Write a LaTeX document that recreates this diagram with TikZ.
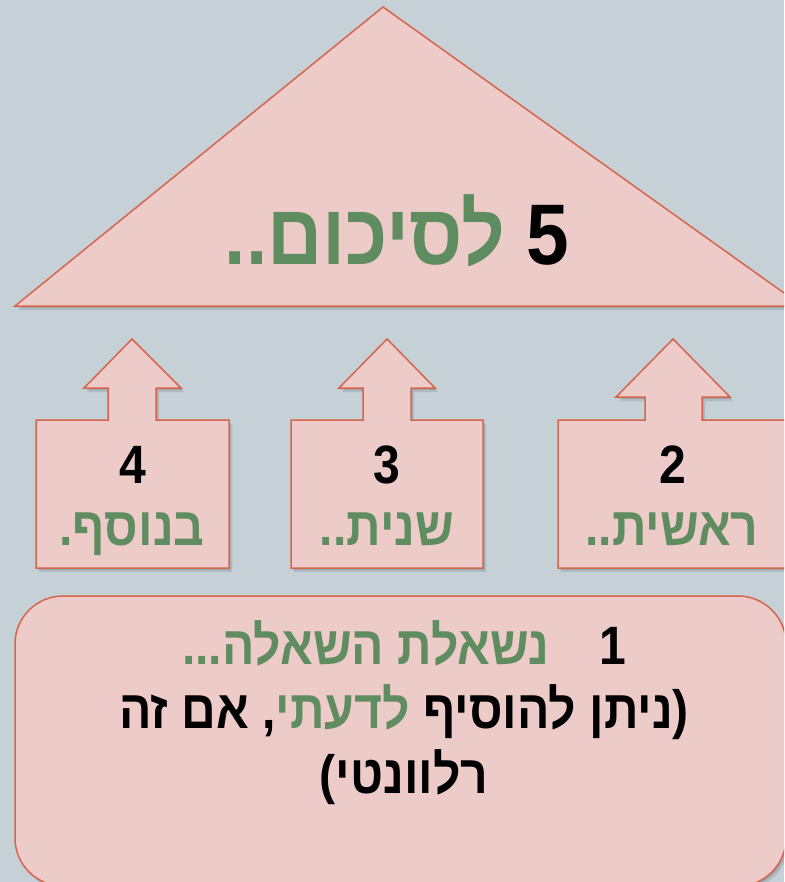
\documentclass[tikz,border=0pt]{standalone}
\usepackage{fontspec}
\setmainfont{Liberation Sans}
\newfontfamily\heb[Script=Hebrew,FakeStretch=0.89]{Liberation Sans}
\newfontfamily\hebg[Script=Hebrew,FakeStretch=0.89,Color=5F8D5F]{Liberation Sans}
\TeXXeTstate=1
\definecolor{bgc}{HTML}{C5D1D7}
\definecolor{fillc}{HTML}{EDCBC8}
\definecolor{linec}{HTML}{D6654B}
\begin{document}
\begin{tikzpicture}[x=1pt,y=-1pt,
  fillstyle/.style={fill=fillc},
  linestyle/.style={draw=linec, line width=1.5pt, line join=miter},
  shadowa/.style={fill=black, opacity=0.10, shift={(3,4)}},
  shadowb/.style={fill=black, opacity=0.10, shift={(1.5,2)}},
  bigtext/.style={font=\heb\bfseries\fontsize{86}{100}\selectfont, anchor=base, inner sep=0pt},
  midtext/.style={font=\heb\bfseries\fontsize{54}{64}\selectfont, anchor=base, inner sep=0pt}]
\useasboundingbox (0,0) rectangle (784,882);
\begin{scope}
\clip (0,0) rectangle (784,882);
\fill[bgc] (0,0) rectangle (784,882);

% summary triangle (runs off the right edge)
\foreach \s in {shadowa,shadowb}
  \path[\s] (383,7) -- (784,293) -- (784,306) -- (15,306) -- cycle;
\path[fillstyle] (383,7) -- (784,293) -- (784,306) -- (15,306) -- cycle;
\path[linestyle] (784,293) -- (383,7) -- (15,306) -- (784,306);
\node[bigtext] (t5) at (397,265) {\beginR 5 {\hebg\bfseries לסיכום..}\endR};

% box 4
\foreach \s in {shadowa,shadowb}
  \path[\s] (36,420) -- (108,420) -- (108,388) -- (84,388) -- (132,339) -- (181,388) -- (156,388) -- (156,420) -- (229,420) -- (229,568) -- (36,568) -- cycle;
\path[fillstyle,linestyle] (36,420) -- (108,420) -- (108,388) -- (84,388) -- (132,339) -- (181,388) -- (156,388) -- (156,420) -- (229,420) -- (229,568) -- (36,568) -- cycle;
\node[midtext] (n4) at (133,483) {4};
\node[midtext] (t4) at (132,545) {\hebg\bfseries\beginR בנוסף.\endR};

% box 3
\foreach \s in {shadowa,shadowb}
  \path[\s] (291,420) -- (363,420) -- (363,388) -- (339,388) -- (387,339) -- (435,388) -- (411,388) -- (411,420) -- (483,420) -- (483,568) -- (291,568) -- cycle;
\path[fillstyle,linestyle] (291,420) -- (363,420) -- (363,388) -- (339,388) -- (387,339) -- (435,388) -- (411,388) -- (411,420) -- (483,420) -- (483,568) -- (291,568) -- cycle;
\node[midtext] (n3) at (387,483) {3};
\node[midtext] (t3) at (387,545) {\hebg\bfseries\beginR שנית..\endR};

% box 2 (runs off the right edge)
\foreach \s in {shadowa,shadowb}
  \path[\s] (558,420) -- (645,420) -- (645,397) -- (616,397) -- (673,339) -- (730,397) -- (702,397) -- (702,420) -- (784,420) -- (784,568) -- (558,568) -- cycle;
\path[fillstyle] (558,420) -- (645,420) -- (645,397) -- (616,397) -- (673,339) -- (730,397) -- (702,397) -- (702,420) -- (784,420) -- (784,568) -- (558,568) -- cycle;
\path[linestyle] (784,420) -- (702,420) -- (702,397) -- (730,397) -- (673,339) -- (616,397) -- (645,397) -- (645,420) -- (558,420) -- (558,568) -- (784,568);
\node[midtext] (n2) at (673,483) {2};
\node[midtext] (t2) at (672,545) {\hebg\bfseries\beginR ראשית..\endR};

% question box (runs off the right and bottom edges)
\foreach \s in {shadowa,shadowb}
  \path[\s, rounded corners=48pt] (15,596) rectangle (786,886);
\path[fillstyle,linestyle, rounded corners=48pt] (15,596) rectangle (786,886);
\node[midtext] (q1) at (404,664) {\beginR 1\hspace{37pt} {\hebg\bfseries נשאלת השאלה...}\endR};
\node[midtext] (q2) at (404,728) {\beginR (ניתן להוסיף {\hebg\bfseries לדעתי}, אם זה\endR};
\node[midtext] (q3) at (404,793) {\beginR רלוונטי)\endR};
\end{scope}
\end{tikzpicture}
\end{document}
